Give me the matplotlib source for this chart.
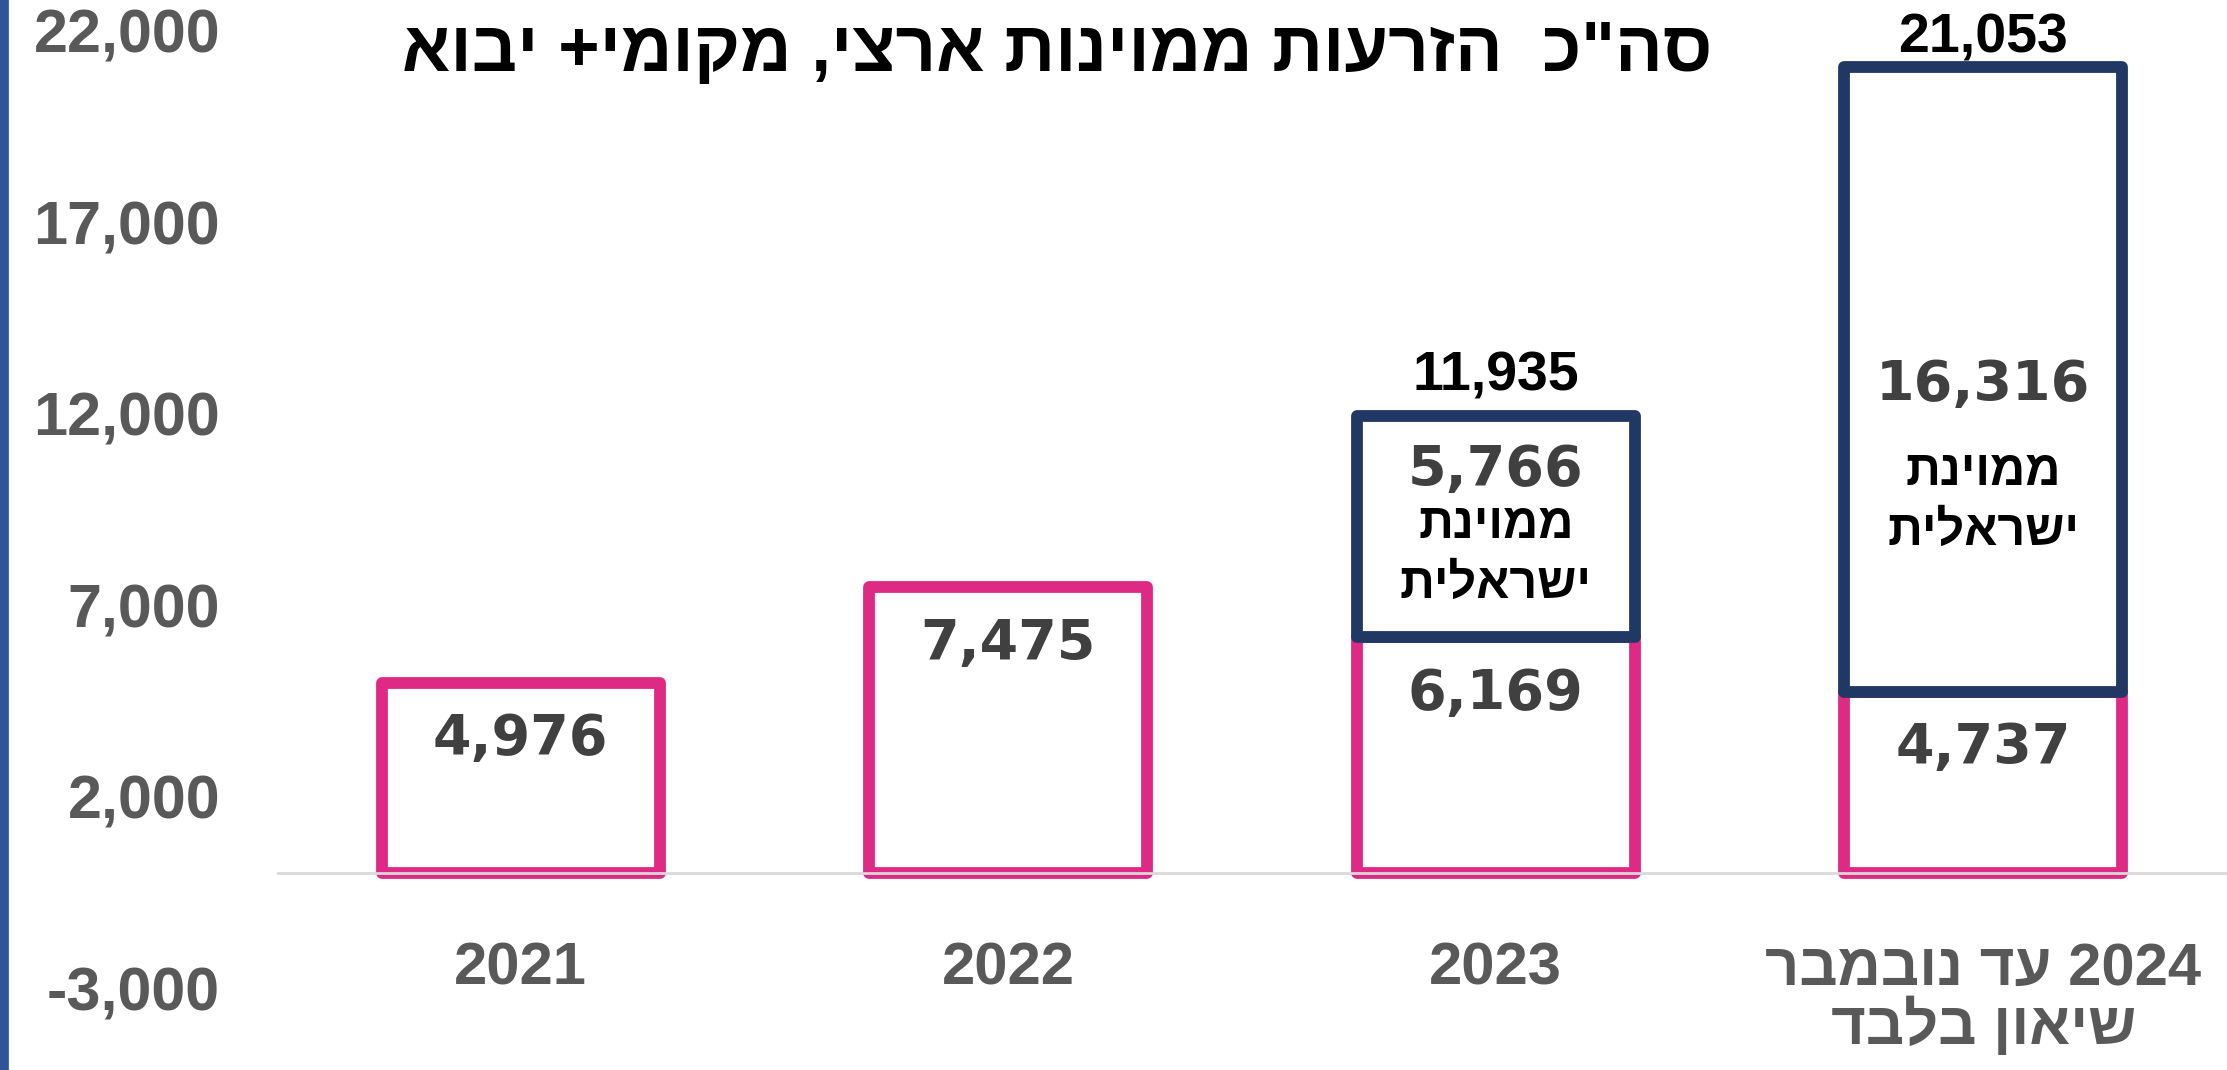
import matplotlib
matplotlib.use("Agg")
import matplotlib.pyplot as plt
from matplotlib.lines import Line2D

# data
categories = ["2021", "2022", "2023", "2024 עד נובמבר\nשיאון בלבד"]
import_values = [4976, 7475, 6169, 4737]
israeli_values = [0, 0, 5766, 16316]
y_ticks = [-3000, 2000, 7000, 12000, 17000, 22000]

title = 'סה"כ  הזרעות ממוינות ארצי, מקומי+ יבוא'
israeli_label = ["ממוינת", "ישראלית"]

PINK = "#DE2A84"
NAVY = "#213864"
TICK_GRAY = "#595959"
VALUE_GRAY = "#404040"
HEB_FONT = ["Liberation Sans", "DejaVu Sans"]


def visual(text: str) -> str:
    """Turn logical right-to-left Hebrew into left-to-right drawing order."""
    lines = []
    for line in text.split("\n"):
        words = line.split(" ")
        words = [w if w.isdigit() else w[::-1] for w in reversed(words)]
        lines.append(" ".join(words))
    return "\n".join(lines)


fig = plt.figure(figsize=(22.27, 10.70), dpi=100)
ax = fig.add_axes([277 / 2227, 82 / 1070, 1950 / 2227, 957 / 1070])

x = list(range(len(categories)))
totals = [a + b for a, b in zip(import_values, israeli_values)]

ax.bar(x, import_values, width=0.57, facecolor="white", edgecolor=PINK,
       linewidth=8.5, joinstyle="round", zorder=2)
israeli_x = [i for i in x if israeli_values[i] > 0]
ax.bar(israeli_x, [israeli_values[i] for i in israeli_x], width=0.57,
       bottom=[import_values[i] for i in israeli_x], facecolor="white",
       edgecolor=NAVY, linewidth=8.5, joinstyle="round", zorder=3)

ax.axhline(0, color="#D9D9D9", linewidth=2, zorder=4)

ax.set_xlim(-0.5, 3.5)
ax.set_ylim(-3000, 22000)
ax.set_yticks(y_ticks)
ax.set_yticklabels([f"{v:,}" for v in y_ticks], fontsize=44,
                   fontweight="bold", color=TICK_GRAY, family="Liberation Sans")
ax.tick_params(axis="y", length=0, pad=41)
ax.set_xticks([])
for spine in ax.spines.values():
    spine.set_visible(False)

# values inside the pink (import) segments
for i, value in enumerate(import_values):
    ax.text(i, value - 1480, f"{value:,}", ha="center", va="center",
            fontsize=40, fontweight="bold", color=VALUE_GRAY,
            family="DejaVu Sans", zorder=6)

# values and labels inside the navy (Israeli) segments, plus totals on top
for i in israeli_x:
    value = israeli_values[i]
    top = totals[i]
    if value > 10000:
        value_y = (import_values[i] + top) / 2 - 155
        first_line = value_y - 2270
    else:
        value_y = top - 1415
        first_line = value_y - 1435
    ax.text(i, value_y, f"{value:,}", ha="center", va="center", fontsize=40,
            fontweight="bold", color=VALUE_GRAY, family="DejaVu Sans", zorder=6)
    for k, line in enumerate(israeli_label):
        ax.text(i, first_line - k * 1575, visual(line), ha="center",
                va="center", fontsize=35, fontweight="bold", color="black",
                family=HEB_FONT, zorder=6)
    ax.text(i, min(top + 1050, 21800), f"{top:,}", ha="center", va="center",
            fontsize=40, fontweight="bold", color="black",
            family="Liberation Sans", zorder=6)

# category labels under the baseline
for i, name in enumerate(categories):
    ax.text(i, -1790, visual(name), ha="center", va="top", fontsize=43,
            fontweight="bold", color=TICK_GRAY, family=HEB_FONT,
            linespacing=1.0, clip_on=False)

fig.text(0.4746, 0.950, visual(title), ha="center", va="center", fontsize=51,
         fontweight="bold", color="black", family=HEB_FONT)

# blue bar along the left edge
fig.add_artist(Line2D([0.002, 0.002], [0, 1], color="#2F5597",
                      linewidth=7, transform=fig.transFigure))

fig.savefig("out.png", dpi=100, facecolor="white")
